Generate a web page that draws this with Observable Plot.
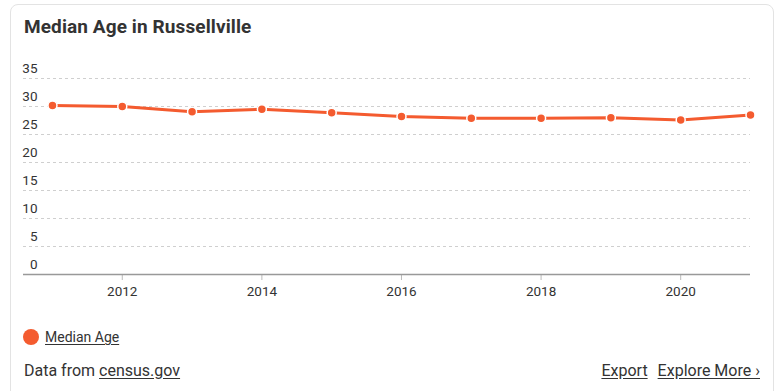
<!DOCTYPE html>
<html>
<head>
<meta charset="utf-8">
<script src="https://cdn.jsdelivr.net/npm/d3@7"></script>
<script src="https://cdn.jsdelivr.net/npm/@observablehq/plot@0.6"></script>
<style>
  html, body { margin: 0; padding: 0; background: #fff; width: 784px; height: 391px; overflow: hidden; font-family: Roboto, "Noto Sans", sans-serif; color: #333; }
  #card { position: absolute; left: 10px; top: 4px; width: 764px; height: 400px; border: 1px solid #e3e3e3; border-radius: 8px; box-sizing: border-box; }
  #title { position: absolute; left: 24px; top: 15px; font-size: 19px; font-weight: 700; color: #333; letter-spacing: 0.1px; }
  #chart { position: absolute; left: 0; top: 50px; }
  #legend { position: absolute; left: 23px; top: 329px; font-size: 14px; display: flex; align-items: center; }
  #legend .sw { width: 16px; height: 16px; border-radius: 50%; background: #f45b2f; margin-right: 6px; }
  #legend a, .foot a { color: #333; text-decoration: underline; text-underline-offset: 2px; }
  #src { position: absolute; left: 24px; top: 361px; font-size: 16px; }
  #links { position: absolute; right: 24px; top: 361px; font-size: 16px; }
  #links a { margin-left: 10px; }
</style>
</head>
<body>
<div id="card"></div>
<div id="title">Median Age in Russellville</div>
<div id="chart"></div>
<div id="legend"><span class="sw"></span><a>Median Age</a></div>
<div id="src" class="foot">Data from <a>census.gov</a></div>
<div id="links" class="foot"><a>Export</a><a>Explore More ›</a></div>
<script>
const years = [2011, 2012, 2013, 2014, 2015, 2016, 2017, 2018, 2019, 2020, 2021];
const medianAge = [30.2, 30.0, 29.05, 29.5, 28.9, 28.2, 27.9, 27.9, 28.0, 27.6, 28.5];
const yTicks = [0, 5, 10, 15, 20, 25, 30, 35];
const xTicks = [2012, 2014, 2016, 2018, 2020];

const data = years.map((y, i) => ({year: y, value: medianAge[i]}));
const orange = "#f45b2f";

const chart = Plot.plot({
  width: 784,
  height: 260,
  marginLeft: 23,
  marginRight: 34,
  marginTop: 28,
  marginBottom: 36,
  style: {fontFamily: "Roboto, sans-serif", fontSize: "13px", color: "#333", background: "transparent"},
  x: {domain: [2010.585, 2021], ticks: xTicks, tickFormat: "d"},
  y: {domain: [0, 35], ticks: yTicks},
  marks: [
    Plot.gridY(yTicks.filter(d => d > 0), {stroke: "#cfcfcf", strokeOpacity: 1, strokeDasharray: "3,3"}),
    Plot.axisY(yTicks, {anchor: "left", tickSize: 0, tickPadding: 0, dx: 14, dy: -10, textAnchor: "end", fontSize: 13.5, fill: "#333", label: null}),
    Plot.axisX(xTicks, {tickSize: 6, stroke: "#bbb", tickPadding: 6, fontSize: 13.5, fill: "#333", label: null, tickFormat: "d"}),
    Plot.ruleY([0], {stroke: "#999", strokeWidth: 1.5}),
    Plot.line(data, {x: "year", y: "value", stroke: orange, strokeWidth: 3}),
    Plot.dot(data, {x: "year", y: "value", r: 4.5, fill: orange, stroke: "#fff", strokeWidth: 1.5})
  ]
});
document.getElementById("chart").appendChild(chart);
</script>
</body>
</html>
